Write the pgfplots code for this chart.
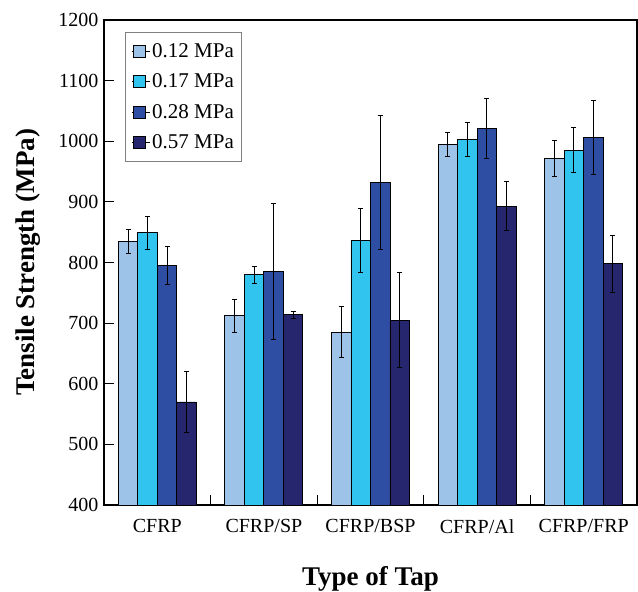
\documentclass[border=0pt]{standalone}
\usepackage{pgfplots}
\usepackage{pgfplotstable}
\pgfplotsset{compat=1.18}
\usepackage{fontspec}
\setmainfont{Liberation Serif}
\definecolor{cA}{RGB}{157,196,232}
\definecolor{cB}{RGB}{48,196,238}
\definecolor{cC}{RGB}{46,78,164}
\definecolor{cD}{RGB}{37,38,110}
\pgfplotstableread{
x v1 e1 v2 e2 v3 e3 v4 e4
0 835 20 849 27 795 32 570 50
1 712 27 780 14 785 112 714 6
2 685 42 836 53 932 110 705 78
3 995 20 1003 28 1021 50 893 40
4 972 30 985 37 1006 61 798 47
}\datatab
\begin{document}
\begin{tikzpicture}
\useasboundingbox (-104pt,-87pt) rectangle (534pt,505pt);
\begin{axis}[
  at={(0pt,0pt)}, anchor=south west,
  scale only axis, width=533pt, height=485pt,
  ybar=0pt, bar width=19.5pt,
  xmin=-0.5, xmax=4.5, ymin=400, ymax=1200,
  ytick={400,500,...,1200},
  xtick={0.5,1.5,2.5,3.5},
  xticklabels={},
  extra x ticks={0,1,2,3,4},
  extra x tick labels={CFRP,CFRP/SP,CFRP/BSP,CFRP/Al,CFRP/FRP},
  extra x tick style={major tick length=0pt, tick style={draw=none}},
  tick align=inside, tick pos=left,
  major tick length=10pt,
  tick style={black, line width=1.2pt},
  axis line style={black, line width=1.3pt},
  /pgf/number format/assume math mode=true,
  /pgf/number format/1000 sep={},
  ticklabel style={font=\fontsize{20}{24}\selectfont},
  xticklabel style={yshift=-11pt},
  yticklabel style={xshift=-2pt},
  xlabel={\textbf{Type of Tap}},
  ylabel={\textbf{Tensile Strength (MPa)}},
  xlabel style={font=\fontsize{27}{32}\selectfont, at={(axis description cs:0.5,-0.152)}, anchor=center},
  ylabel style={font=\fontsize{27}{32}\selectfont, at={(axis description cs:-0.1426,0.5)}, anchor=center},
  legend style={at={(0.0394,0.975)}, anchor=north west, draw=gray, line width=0.8pt,
    font=\fontsize{21}{25}\selectfont, row sep=11pt, inner xsep=6pt, inner ysep=9pt},
  legend cell align=left,
  legend image code/.code={\path (0pt,0pt) -- (18pt,0pt); \draw[#1,draw=black,line width=0.8pt] (2pt,-6pt) rectangle (14pt,6pt);},
  error bars/y dir=both, error bars/y explicit,
  error bars/error bar style={black, line width=1pt},
  error bars/error mark options={black, line width=1pt, mark size=2.5pt, rotate=90},
]
\addplot[fill=cA, draw=black, line width=0.8pt] table[x=x, y=v1, y error=e1] {\datatab};
\addplot[fill=cB, draw=black, line width=0.8pt] table[x=x, y=v2, y error=e2] {\datatab};
\addplot[fill=cC, draw=black, line width=0.8pt] table[x=x, y=v3, y error=e3] {\datatab};
\addplot[fill=cD, draw=black, line width=0.8pt] table[x=x, y=v4, y error=e4] {\datatab};
\legend{0.12 MPa,0.17 MPa,0.28 MPa,0.57 MPa}
\end{axis}
\end{tikzpicture}
\end{document}
